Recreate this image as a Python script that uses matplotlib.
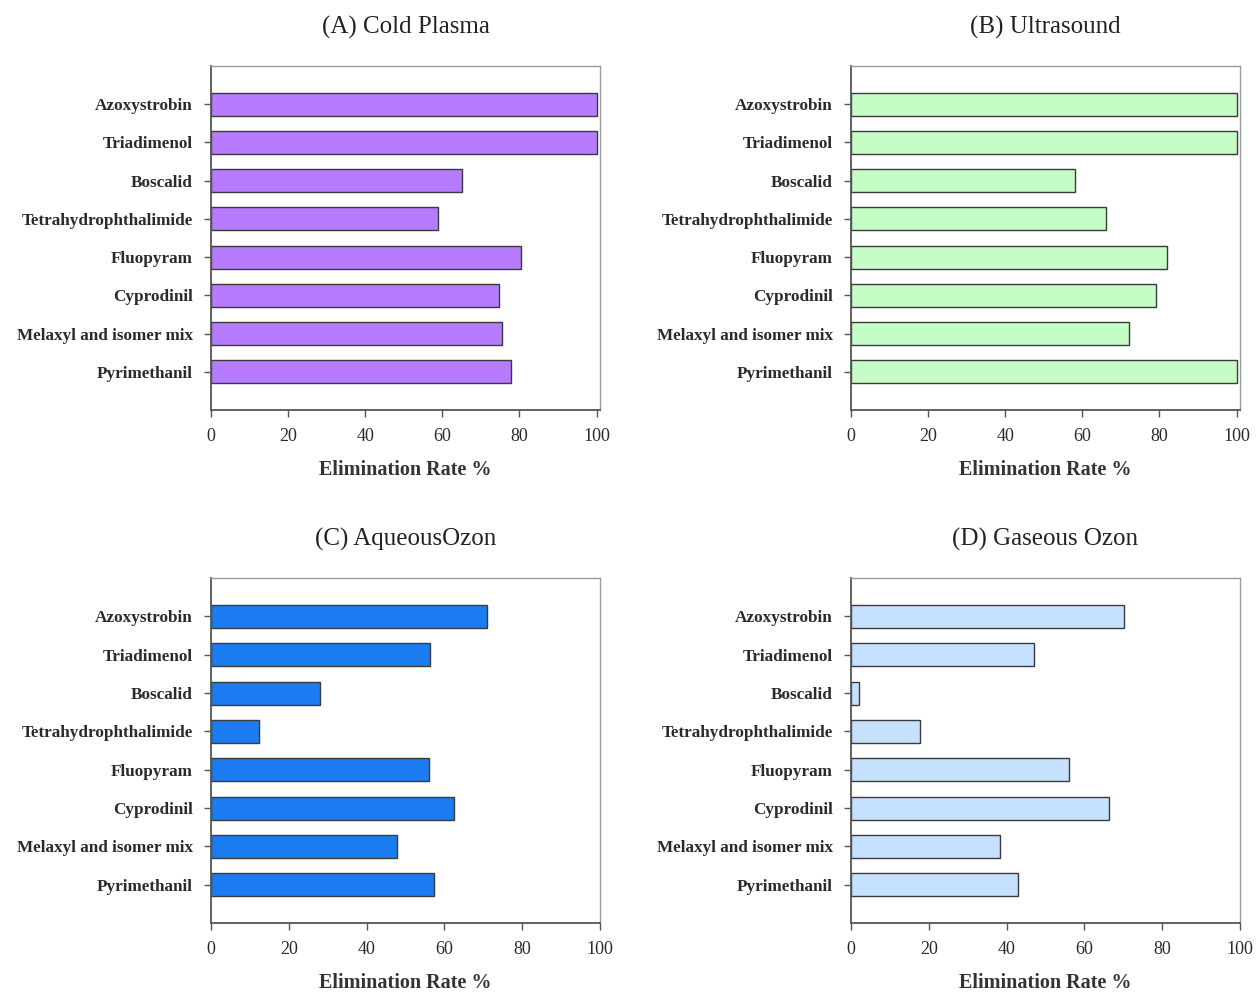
import matplotlib
matplotlib.use("Agg")
from matplotlib import pyplot as plt

# compounds, listed top to bottom
compounds = ["Azoxystrobin", "Triadimenol", "Boscalid", "Tetrahydrophthalimide",
             "Fluopyram", "Cyprodinil", "Melaxyl and isomer mix", "Pyrimethanil"]

# elimination rates (%)
cold_plasma = [100, 100, 65.1, 59.0, 80.3, 74.6, 75.6, 77.8]
ultrasound = [100, 100, 58.2, 66.1, 81.9, 79.2, 72.0, 100]
aqueous_ozon = [70.9, 56.2, 28.1, 12.4, 56.0, 62.4, 47.7, 57.3]
gaseous_ozon = [70.2, 47.1, 2.1, 17.8, 56.1, 66.3, 38.3, 42.9]

titles = ["(A) Cold Plasma", "(B) Ultrasound", "(C) AqueousOzon", "(D) Gaseous Ozon"]
colors = ["#b77bff", "#c6fdc6", "#1b7cf2", "#c5e1fe"]
xmax = [100.9, 100.9, 100, 100]

plt.rcParams['font.family'] = ['Liberation Serif', 'DejaVu Serif']

fig = plt.figure(figsize=(12.59, 9.92), dpi=100)

# axes boxes in pixels: left, top, right, bottom
boxes = [(211, 66, 600, 410), (851, 66, 1240, 410),
         (211, 578, 600, 923), (851, 578, 1240, 923)]
W, H = 1259, 992

series = [cold_plasma, ultrasound, aqueous_ozon, gaseous_ozon]
for k in range(4):
    l, t, r, b = boxes[k]
    ax = fig.add_axes([l / W, 1 - b / H, (r - l) / W, (b - t) / H])
    pos = list(range(len(compounds), 0, -1))
    ax.barh(pos, series[k], height=0.6, color=colors[k], edgecolor="#3a3a3a", linewidth=1.0)
    ax.set_ylim(0, len(compounds) + 1)
    ax.set_xlim(0, xmax[k])
    ax.set_yticks(pos)
    ax.set_yticklabels(compounds, fontsize=12.3, fontweight='semibold', color="#2a2a2a")
    ax.set_xticks([0, 20, 40, 60, 80, 100])
    ax.set_xticklabels(["0", "20", "40", "60", "80", "100"], fontsize=13, color="#2a2a2a")
    ax.tick_params(axis='both', direction='out', length=5, width=1, color="#555555", pad=8)
    ax.set_xlabel("Elimination Rate %", fontsize=14.5, fontweight='bold', color="#333333", labelpad=11)
    ax.set_title(titles[k], fontsize=18, color="#222222", pad=23)
    for side in ["left", "bottom"]:
        ax.spines[side].set_color("#555555")
        ax.spines[side].set_linewidth(1.3)
    for side in ["top", "right"]:
        ax.spines[side].set_color("#999999")
        ax.spines[side].set_linewidth(1.0)

fig.savefig("out.png", dpi=100)
